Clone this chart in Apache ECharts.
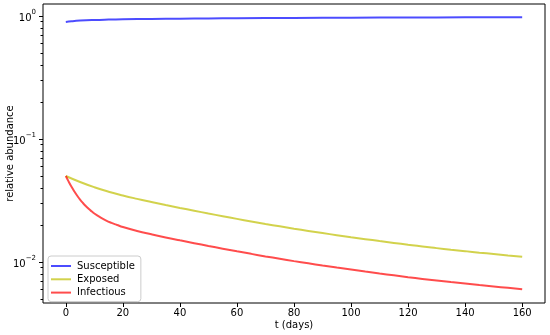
<!DOCTYPE html>
<html>
<head>
<meta charset="utf-8">
<script src="https://cdn.jsdelivr.net/npm/echarts@6/dist/echarts.min.js"></script>
<style>html,body{margin:0;padding:0;background:#fff}#c{width:550px;height:335px}</style>
</head>
<body>
<div id="c"></div>
<script>
const tS = [0, 2, 5, 10, 15, 20, 30, 40, 50, 60, 80, 100, 120, 140, 160];
const susceptible = [0.894, 0.905, 0.916, 0.927, 0.934, 0.939, 0.945, 0.949, 0.953, 0.958, 0.964, 0.968, 0.971, 0.974, 0.976];

const tE = [0, 5, 10, 15, 20, 25, 30, 35, 40, 45, 50, 55, 60, 65, 70, 75, 80, 85, 90, 95, 100, 105, 110, 115, 120, 125, 130, 135, 140, 145, 150, 155, 160];
const exposed = [0.0500, 0.04467, 0.04051, 0.03727, 0.03471, 0.03258, 0.03073, 0.02904, 0.02750, 0.02609, 0.02477, 0.02355, 0.02241, 0.02135, 0.02037, 0.01948, 0.01864, 0.01789, 0.01718, 0.01652, 0.01590, 0.01533, 0.01479, 0.01429, 0.01380, 0.01335, 0.01296, 0.01259, 0.01225, 0.01191, 0.01160, 0.01130, 0.01102];

const tI = [0, 1, 2, 3, 4, 5, 6, 7, 8, 9, 10, 12, 14, 16, 18, 20, 25, 30, 35, 40, 45, 50, 55, 60, 65, 70, 75, 80, 85, 90, 95, 100, 105, 110, 115, 120, 125, 130, 135, 140, 145, 150, 155, 160];
const infectious = [0.0500, 0.04499, 0.04085, 0.03741, 0.03453, 0.03211, 0.03015, 0.02849, 0.02706, 0.02584, 0.02477, 0.02313, 0.02182, 0.02080, 0.01998, 0.01925, 0.01788, 0.01679, 0.01583, 0.01499, 0.01422, 0.01350, 0.01283, 0.01221, 0.01164, 0.01110, 0.01062, 0.01016, 0.00975, 0.00936, 0.00900, 0.00867, 0.00835, 0.00806, 0.00779, 0.00752, 0.00728, 0.00706, 0.00686, 0.00668, 0.00649, 0.00632, 0.00616, 0.00601];

const xTicks = [0, 20, 40, 60, 80, 100, 120, 140, 160];
const yMajorTicks = [0.01, 0.1, 1];
const yMinorTicks = [0.005, 0.006, 0.007, 0.008, 0.009, 0.02, 0.03, 0.04, 0.05, 0.06, 0.07, 0.08, 0.09, 0.2, 0.3, 0.4, 0.5, 0.6, 0.7, 0.8, 0.9];

const zip = (xs, ys) => xs.map((x, i) => [x, ys[i]]);
const FONT = 'DejaVu Sans';
const supMap = {'0': '0', '-1': '−1', '-2': '−2'};

const chart = echarts.init(document.getElementById('c'), null, {renderer: 'canvas'});
const yRange = {min: 0.00464, max: 1.25};

chart.setOption({
  animation: false,
  backgroundColor: '#fff',
  textStyle: {fontFamily: FONT},
  grid: {left: 43, right: 5, top: 4, bottom: 32, containLabel: false, outerBoundsMode: 'none',
         show: true, borderColor: '#000', borderWidth: 1, backgroundColor: 'transparent'},
  legend: {
    orient: 'vertical', left: 48, top: 256,
    itemWidth: 20, itemHeight: 2, itemGap: 1.3,
    icon: 'rect',
    padding: [4, 6, 3, 3],
    borderColor: '#cccccc', borderWidth: 1, borderRadius: 3,
    backgroundColor: 'rgba(255,255,255,0.8)',
    textStyle: {fontFamily: FONT, fontSize: 10, color: '#000', lineHeight: 12, padding: [0, 0, 0, 1]},
    data: ['Susceptible', 'Exposed', 'Infectious']
  },
  xAxis: {
    type: 'value', min: -8, max: 168,
    name: 't (days)', nameLocation: 'middle', nameGap: 17, nameMoveOverlap: false,
    nameTextStyle: {fontFamily: FONT, fontSize: 10, color: '#000'},
    axisLine: {show: false, onZero: false},
    splitLine: {show: false},
    axisTick: {show: true, length: 4, lineStyle: {color: '#000'}, customValues: xTicks},
    axisLabel: {fontFamily: FONT, fontSize: 10, color: '#000', margin: 5, customValues: xTicks}
  },
  yAxis: [{
    type: 'log', logBase: 10, min: yRange.min, max: yRange.max, position: 'left',
    name: 'relative abundance', nameLocation: 'middle', nameGap: 28, nameMoveOverlap: false,
    nameTextStyle: {fontFamily: FONT, fontSize: 10, color: '#000'},
    axisLine: {show: false, onZero: false},
    splitLine: {show: false},
    axisTick: {show: true, length: 4, lineStyle: {color: '#000'}, customValues: yMajorTicks},
    axisLabel: {
      margin: 7, customValues: yMajorTicks,
      formatter: function (v) {
        const e = Math.round(Math.log10(v));
        return '{m|10}{e|' + (supMap[String(e)] || String(e)) + '}';
      },
      rich: {
        m: {fontFamily: FONT, fontSize: 10, color: '#000', lineHeight: 14, verticalAlign: 'bottom'},
        e: {fontFamily: FONT, fontSize: 7, color: '#000', lineHeight: 14, verticalAlign: 'top'}
      }
    }
  }, {
    type: 'log', logBase: 10, min: yRange.min, max: yRange.max, position: 'left', offset: 0,
    axisLine: {show: false, onZero: false}, splitLine: {show: false},
    axisTick: {show: true, length: 2.5, lineStyle: {color: '#000'}, customValues: yMinorTicks},
    axisLabel: {show: false}
  }],
  series: [
    {name: 'Susceptible', type: 'line', data: zip(tS, susceptible), smooth: 0.5, showSymbol: false,
     lineStyle: {width: 2, color: 'rgba(0,0,255,0.7)'}, itemStyle: {color: 'rgba(0,0,255,0.7)'}},
    {name: 'Exposed', type: 'line', data: zip(tE, exposed), smooth: 0.5, showSymbol: false,
     lineStyle: {width: 2, color: 'rgba(191,191,0,0.7)'}, itemStyle: {color: 'rgba(191,191,0,0.7)'}},
    {name: 'Infectious', type: 'line', data: zip(tI, infectious), smooth: 0.5, showSymbol: false,
     lineStyle: {width: 2, color: 'rgba(255,0,0,0.7)'}, itemStyle: {color: 'rgba(255,0,0,0.7)'}}
  ]
});
</script>
</body>
</html>
